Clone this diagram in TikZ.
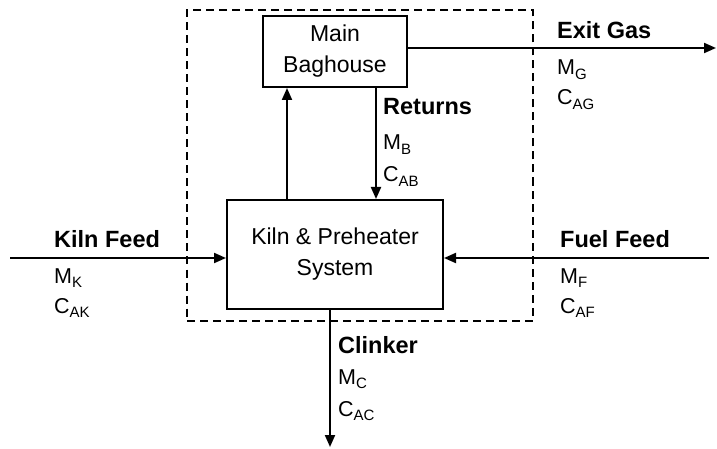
\documentclass[tikz,border=0pt]{standalone}
\usepackage{fontspec}
\setmainfont{Liberation Sans}
\usetikzlibrary{arrows.meta}
\newcommand\fq[2]{{\fontsize{21.5}{20}\selectfont #1\raisebox{-4.5pt}{\fontsize{15}{15}\selectfont #2}}}
\begin{document}
\begin{tikzpicture}[x=1pt,y=-1pt,
  box/.style={draw, line width=2pt, inner sep=0pt, align=center, font=\fontsize{23}{31}\selectfont},
  flow/.style={line width=2pt, -{Triangle[length=12pt,width=10pt]}},
  ttl/.style={anchor=base west, inner sep=0pt, font=\bfseries\fontsize{23.5}{28}\selectfont},
  var/.style={anchor=base west, inner sep=0pt},
  bound/.style={draw, line width=2pt, dash pattern=on 8pt off 5pt, inner sep=0pt}]
\useasboundingbox (0,0) rectangle (717,449);
\node[bound, minimum width=346pt, minimum height=310pt] (cv) at (360,165.5) {};
\node[box, minimum width=144pt, minimum height=71pt] (bag) at (335,51.5) {Main\\Baghouse};
\node[box, minimum width=216pt, minimum height=109pt] (kiln) at (335,254.5) {Kiln \& Preheater\\System};
\coordinate (gasend) at (716,48);
\coordinate (upx) at (287,0);
\coordinate (retx) at (376,0);
\coordinate (kfin) at (10,258);
\coordinate (ffin) at (709,258);
\coordinate (clout) at (330,447);
\draw[flow] (bag.east |- gasend) -- (gasend);
\draw[flow] (kiln.north -| upx) -- (bag.south -| upx);
\draw[flow] (bag.south -| retx) -- (kiln.north -| retx);
\draw[flow] (kfin) -- (kfin -| kiln.west);
\draw[flow] (ffin) -- (ffin -| kiln.east);
\draw[flow] (kiln.south -| clout) -- (clout);
\node[ttl] (t1) at (557,39) {Exit Gas};
\node[var] (m1) at (557,75) {\fq{M}{G}};
\node[var] (c1) at (557,105) {\fq{C}{AG}};
\node[ttl] (t2) at (383,115) {Returns};
\node[var] (m2) at (383,150) {\fq{M}{B}};
\node[var] (c2) at (383,182) {\fq{C}{AB}};
\node[ttl] (t3) at (54,247) {Kiln Feed};
\node[var] (m3) at (54,283) {\fq{M}{K}};
\node[var] (c3) at (54,313) {\fq{C}{AK}};
\node[ttl] (t4) at (560,247) {Fuel Feed};
\node[var] (m4) at (560,283) {\fq{M}{F}};
\node[var] (c4) at (560,313) {\fq{C}{AF}};
\node[ttl] (t5) at (338,353) {Clinker};
\node[var] (m5) at (338,384) {\fq{M}{C}};
\node[var] (c5) at (338,416) {\fq{C}{AC}};
\end{tikzpicture}
\end{document}
